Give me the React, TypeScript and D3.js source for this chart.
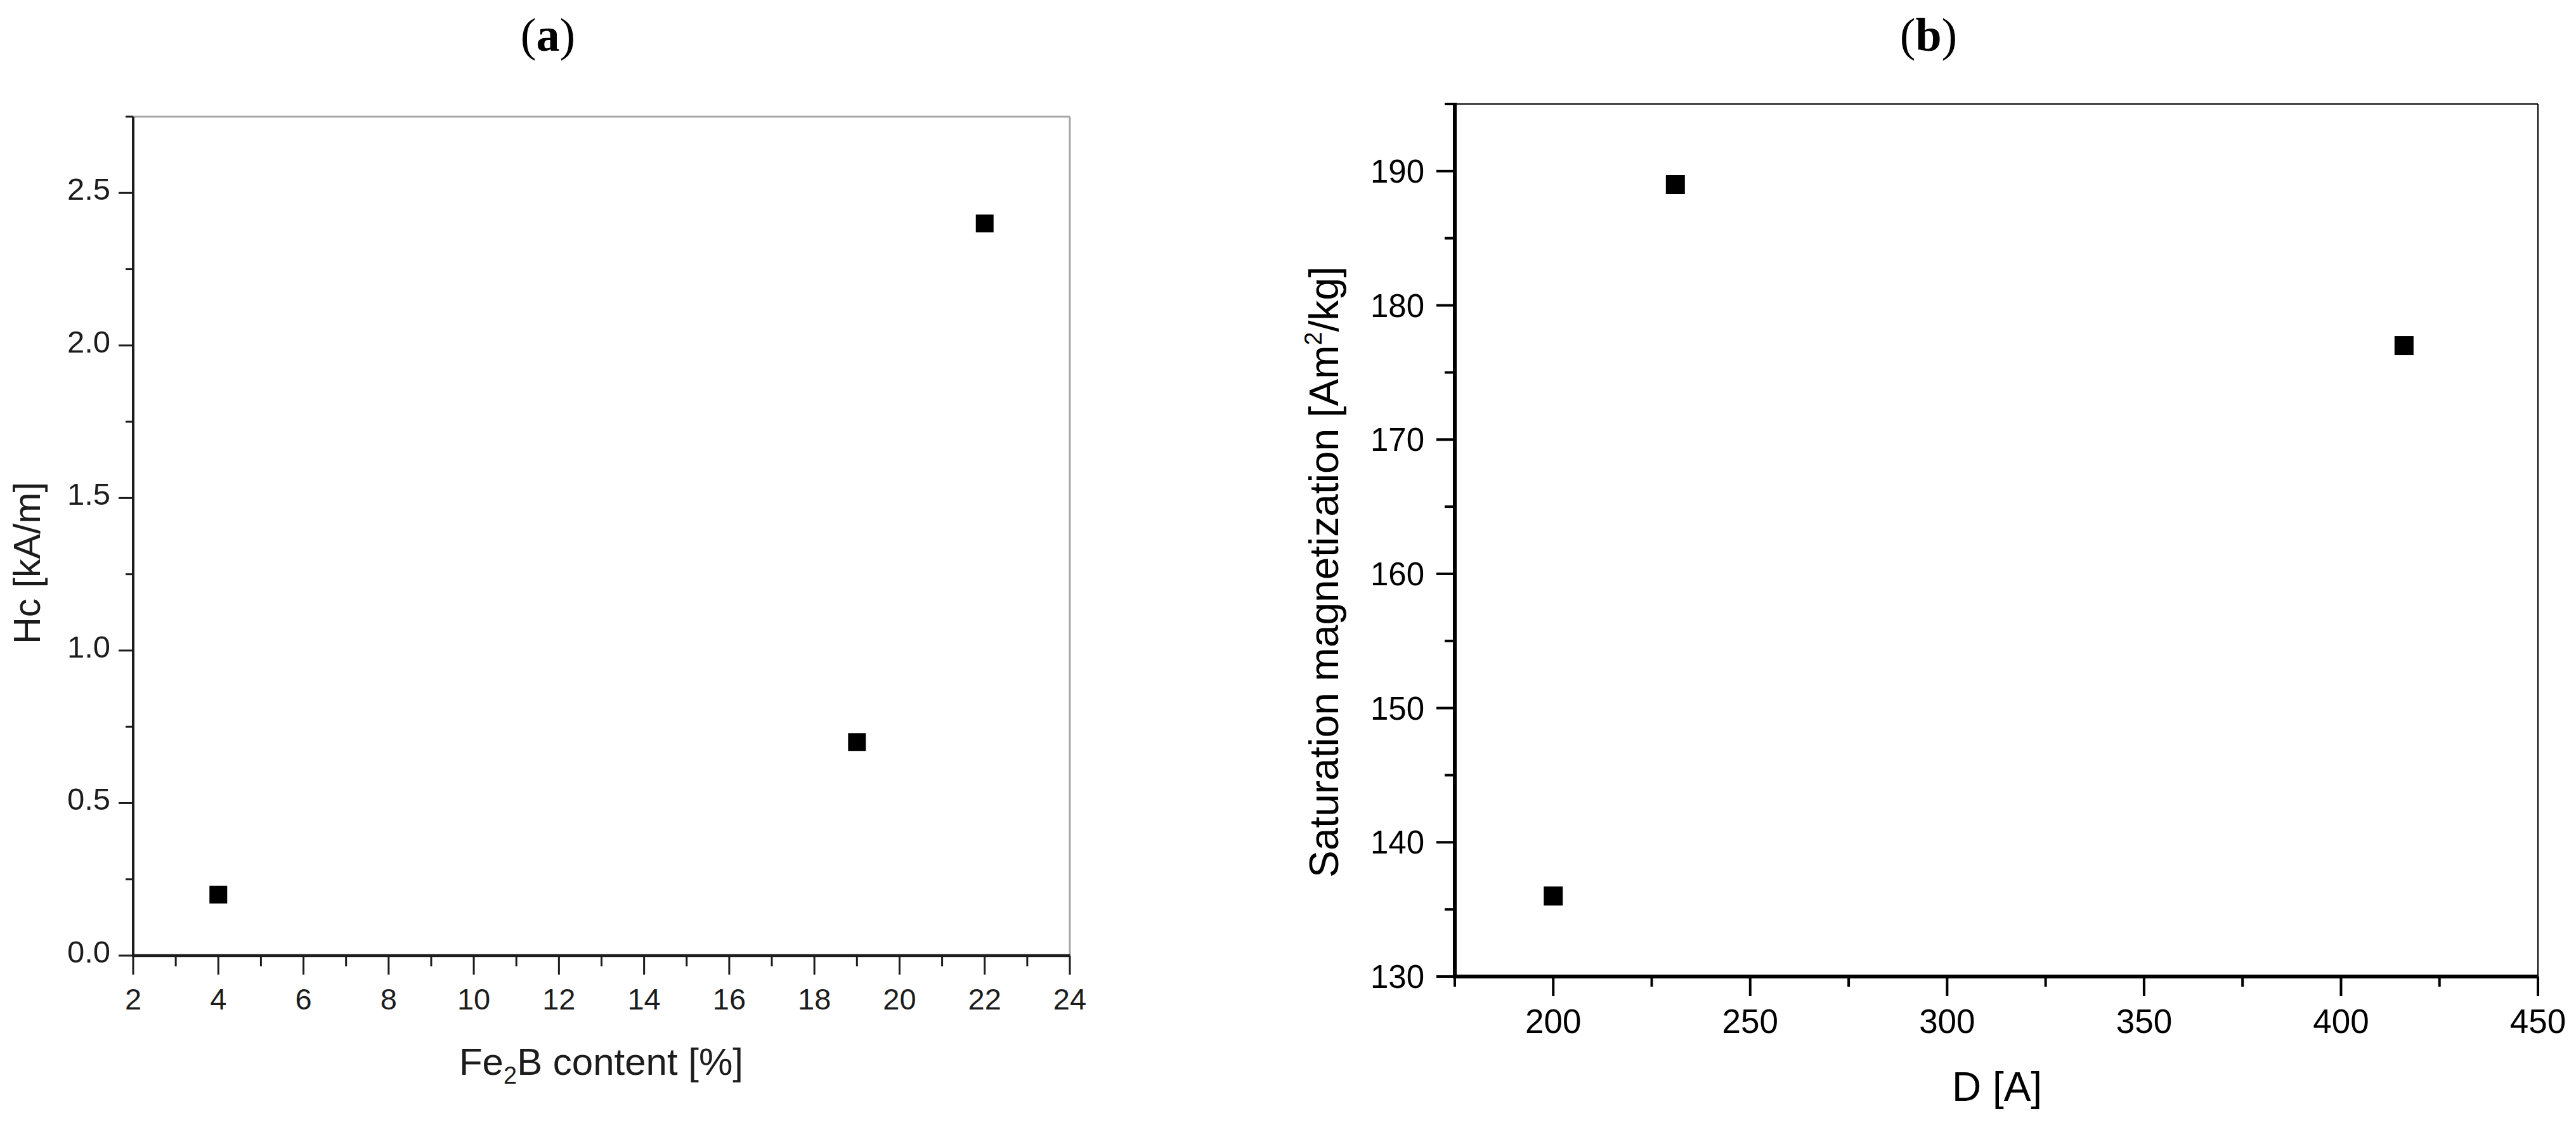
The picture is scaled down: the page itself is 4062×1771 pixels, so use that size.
import React from "react";
import * as d3 from "d3";

// ---- Data ----
const fe2bContent = [4, 19, 22];
const hcValues = [0.2, 0.7, 2.4];

const grainSize = [200, 231, 416];
const satMagnetization = [136, 189, 177];

const aXTicks = [2, 4, 6, 8, 10, 12, 14, 16, 18, 20, 22, 24];
const aXMinor = [3, 5, 7, 9, 11, 13, 15, 17, 19, 21, 23];
const aYTicks = [0, 0.5, 1.0, 1.5, 2.0, 2.5];
const aYMinor = [0.25, 0.75, 1.25, 1.75, 2.25, 2.75];

const bXTicks = [200, 250, 300, 350, 400, 450];
const bXMinor = [175, 225, 275, 325, 375, 425];
const bYTicks = [130, 140, 150, 160, 170, 180, 190];
const bYMinor = [135, 145, 155, 165, 175, 185, 195];

const W = 4062;
const H = 1771;
const SANS = "'Liberation Sans', Arial, Helvetica, sans-serif";
const SERIF = "'Liberation Serif', 'Times New Roman', serif";

export default function App() {
  // Panel (a) scales
  const ax = d3.scaleLinear().domain([2, 24]).range([210, 1687]);
  const ay = d3.scaleLinear().domain([0, 2.75]).range([1507, 184]);
  // Panel (b) scales
  const bx = d3.scaleLinear().domain([175, 450]).range([2294, 4002]);
  const by = d3.scaleLinear().domain([130, 195]).range([1540, 164]);

  const aCol = "#1c1c1c";
  const aMs = 28;
  const bMs = 30;

  return (
    <svg
      width={W}
      height={H}
      viewBox={`0 0 ${W} ${H}`}
      style={{ position: "absolute", left: 0, top: 0, background: "#fff" }}
    >
      <rect x={0} y={0} width={W} height={H} fill="#fff" />

      {/* ===== Panel (a) ===== */}
      <text x={864} y={80} fontFamily={SERIF} fontSize={74} textAnchor="middle" fill="#000">
        (<tspan fontWeight="bold">a</tspan>)
      </text>
      {/* frame top/right grey */}
      <line x1={ax(2)} x2={ax(24)} y1={ay(2.75)} y2={ay(2.75)} stroke="#a8a8a8" strokeWidth={3} />
      <line x1={ax(24)} x2={ax(24)} y1={ay(2.75)} y2={ay(0)} stroke="#a8a8a8" strokeWidth={3} />
      {/* axes */}
      <line x1={ax(2)} x2={ax(2)} y1={ay(2.75)} y2={ay(0)} stroke={aCol} strokeWidth={4} />
      <line x1={ax(2) - 2} x2={ax(24)} y1={ay(0)} y2={ay(0)} stroke={aCol} strokeWidth={4.5} />
      {/* x ticks */}
      {aXTicks.map((t) => (
        <g key={"axt" + t}>
          <line x1={ax(t)} x2={ax(t)} y1={ay(0)} y2={ay(0) + 30} stroke={aCol} strokeWidth={3} />
          <text x={ax(t)} y={1592} fontFamily={SANS} fontSize={47} textAnchor="middle" fill={aCol}>
            {t}
          </text>
        </g>
      ))}
      {aXMinor.map((t) => (
        <line key={"axm" + t} x1={ax(t)} x2={ax(t)} y1={ay(0)} y2={ay(0) + 17} stroke={aCol} strokeWidth={3} />
      ))}
      {/* y ticks */}
      {aYTicks.map((t) => (
        <g key={"ayt" + t}>
          <line x1={ax(2) - 23} x2={ax(2)} y1={ay(t)} y2={ay(t)} stroke={aCol} strokeWidth={3} />
          <text x={174} y={ay(t) + 11} fontFamily={SANS} fontSize={49} textAnchor="end" fill={aCol}>
            {d3.format(".1f")(t)}
          </text>
        </g>
      ))}
      {aYMinor.map((t) => (
        <line key={"aym" + t} x1={ax(2) - 12} x2={ax(2)} y1={ay(t)} y2={ay(t)} stroke={aCol} strokeWidth={3} />
      ))}
      {/* axis titles */}
      <text x={948} y={1695} fontFamily={SANS} fontSize={60} textAnchor="middle" fill={aCol}>
        Fe<tspan dy={14} fontSize={38}>2</tspan>
        <tspan dy={-14}>B content [%]</tspan>
      </text>
      <text
        transform={`translate(63, 888) rotate(-90)`}
        fontFamily={SANS}
        fontSize={59}
        textAnchor="middle"
        fill={aCol}
      >
        Hc [kA/m]
      </text>
      {/* points */}
      {fe2bContent.map((v, i) => (
        <rect
          key={"ap" + i}
          x={ax(v) - aMs / 2}
          y={ay(hcValues[i]) - aMs / 2}
          width={aMs}
          height={aMs}
          fill="#000"
        />
      ))}

      {/* ===== Panel (b) ===== */}
      <text x={3041} y={80} fontFamily={SERIF} fontSize={74} textAnchor="middle" fill="#000">
        (<tspan fontWeight="bold">b</tspan>)
      </text>
      {/* frame top/right */}
      <line x1={bx(175)} x2={bx(450)} y1={by(195)} y2={by(195)} stroke="#000" strokeWidth={2} />
      <line x1={bx(450)} x2={bx(450)} y1={by(195)} y2={by(130)} stroke="#000" strokeWidth={2} />
      {/* axes */}
      <line x1={bx(175)} x2={bx(175)} y1={by(195) - 2} y2={by(130)} stroke="#000" strokeWidth={6} />
      <line x1={bx(175) - 3} x2={bx(450) + 1} y1={by(130)} y2={by(130)} stroke="#000" strokeWidth={6} />
      {/* x ticks */}
      {bXTicks.map((t) => (
        <g key={"bxt" + t}>
          <line x1={bx(t)} x2={bx(t)} y1={by(130)} y2={by(130) + 31} stroke="#000" strokeWidth={4} />
          <text x={bx(t)} y={1629} fontFamily={SANS} fontSize={53} textAnchor="middle" fill="#000">
            {t}
          </text>
        </g>
      ))}
      {bXMinor.map((t) => (
        <line key={"bxm" + t} x1={bx(t)} x2={bx(t)} y1={by(130)} y2={by(130) + 16} stroke="#000" strokeWidth={4} />
      ))}
      {/* y ticks */}
      {bYTicks.map((t) => (
        <g key={"byt" + t}>
          <line x1={bx(175) - 29} x2={bx(175)} y1={by(t)} y2={by(t)} stroke="#000" strokeWidth={4} />
          <text x={2246} y={by(t) + 18} fontFamily={SANS} fontSize={51} textAnchor="end" fill="#000">
            {t}
          </text>
        </g>
      ))}
      {bYMinor.map((t) => (
        <line key={"bym" + t} x1={bx(175) - 16} x2={bx(175)} y1={by(t)} y2={by(t)} stroke="#000" strokeWidth={4} />
      ))}
      {/* axis titles */}
      <text x={3149} y={1736} fontFamily={SANS} fontSize={64} textAnchor="middle" fill="#000">
        D [A]
      </text>
      <text
        transform={`translate(2110, 902) rotate(-90)`}
        fontFamily={SANS}
        fontSize={64}
        textAnchor="middle"
        fill="#000"
      >
        Saturation magnetization [Am<tspan dy={-26} fontSize={38}>2</tspan>
        <tspan dy={26}>/kg]</tspan>
      </text>
      {/* points */}
      {grainSize.map((v, i) => (
        <rect
          key={"bp" + i}
          x={bx(v) - bMs / 2}
          y={by(satMagnetization[i]) - bMs / 2}
          width={bMs}
          height={bMs}
          fill="#000"
        />
      ))}
    </svg>
  );
}
